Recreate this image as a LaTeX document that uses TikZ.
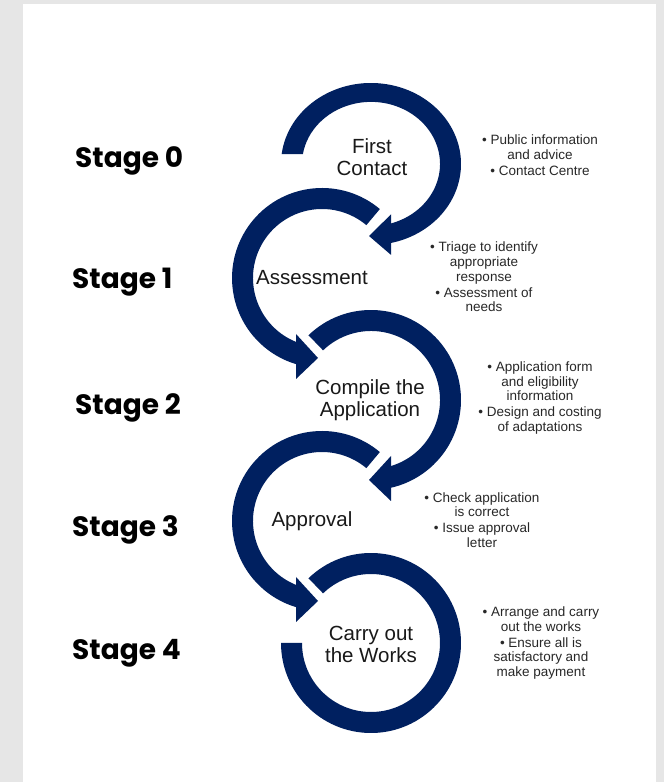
\documentclass[tikz,border=0pt]{standalone}
\usepackage{fontspec}
\setmainfont{Liberation Sans}
\newfontfamily\stagefont{Poppins}
\usetikzlibrary{calc}
\definecolor{navy}{RGB}{0,32,96}
\definecolor{bgrey}{RGB}{230,230,230}
\definecolor{txtgrey}{RGB}{40,40,40}
\newcommand{\ringRight}[2]{%
  \fill[navy] ($(#1)+(#2:90)$) arc[start angle=#2, end angle=-77.2, radius=90]
     -- ($(#1)+(-73.1:69)$) arc[start angle=-73.1, end angle=#2, radius=69] -- cycle;
  \fill[navy] ($(#1)+(20,-56)$) -- ($(#1)+(-2,-80)$) -- ($(#1)+(20,-101)$) -- cycle;}
\newcommand{\ringLeft}[2]{%
  \fill[navy] ($(#1)+(#2:90)$) arc[start angle=#2, end angle=253.2, radius=90]
     -- ($(#1)+(247.9:69)$) arc[start angle=247.9, end angle=#2, radius=69] -- cycle;
  \fill[navy] ($(#1)+(-26,-56)$) -- ($(#1)+(-4,-80)$) -- ($(#1)+(-26,-101)$) -- cycle;}
\begin{document}
\begin{tikzpicture}[x=1pt,y=1pt,
  stagelbl/.style={anchor=base west, inner sep=0pt, font=\stagefont\bfseries\fontsize{28}{30}\selectfont, text=black},
  mainlbl/.style={align=center, inner sep=0pt, font=\fontsize{20.5}{22}\selectfont, text=black!90},
  bulletlbl/.style={align=center, inner sep=0pt, font=\fontsize{13.5}{14.6}\selectfont, text=txtgrey}]
\fill[bgrey] (0,0) rectangle (664,782);
\fill[white] (23,0) rectangle (656,778);
\useasboundingbox (0,0) rectangle (664,782);

\coordinate (c0) at (371,618);
\coordinate (c1) at (322,504);
\coordinate (c2) at (371,382);
\coordinate (c3) at (322,261);
\coordinate (c4) at (371,139);

% stage 0 ring: slightly flattened circle, horizontal cut at its start
\begin{scope}[shift={(c0)}, yscale=0.9]
  \fill[navy] (173:90) arc[start angle=173, end angle=-77.2, radius=90]
     -- (-73.1:69) arc[start angle=-73.1, end angle=170.85, radius=69] -- cycle;
  \fill[navy] (20,-56) -- (-2,-80) -- (20,-101) -- cycle;
\end{scope}
\ringLeft{c1}{50}
\ringRight{c2}{134}
\ringLeft{c3}{50}
\fill[navy] ($(c4)+(134:90)$) arc[start angle=134, end angle=-180, radius=90]
   -- ($(c4)+(180:69)$) arc[start angle=-180, end angle=134, radius=69] -- cycle;

\node[mainlbl] (t0) at (372,625) {First\\Contact};
\node[mainlbl] (t1) at (312,504) {Assessment};
\node[mainlbl] (t2) at (370,382) {Compile the\\Application};
\node[mainlbl] (t3) at (312,261) {Approval};
\node[mainlbl] (t4) at (371,138) {Carry out\\the Works};

\node[stagelbl] (s0) at (75,614) {Stage 0};
\node[stagelbl] (s1) at (72,493) {Stage 1};
\node[stagelbl] (s2) at (75,367) {Stage 2};
\node[stagelbl] (s3) at (72,245) {Stage 3};
\node[stagelbl] (s4) at (72,122) {Stage 4};

\node[bulletlbl] (b0) at (540,627) {• Public information\\and advice\\[1.5pt]• Contact Centre};
\node[bulletlbl] (b1) at (484,505) {• Triage to identify\\appropriate\\response\\[1.5pt]• Assessment of\\needs};
\node[bulletlbl] (b2) at (540,384) {• Application form\\and eligibility\\information\\[1.5pt]• Design and costing\\of adaptations};
\node[bulletlbl] (b3) at (482,262) {• Check application\\is correct\\[1.5pt]• Issue approval\\letter};
\node[bulletlbl] (b4) at (541,139) {• Arrange and carry\\out the works\\[1.5pt]• Ensure all is\\satisfactory and\\make payment};
\end{tikzpicture}
\end{document}
